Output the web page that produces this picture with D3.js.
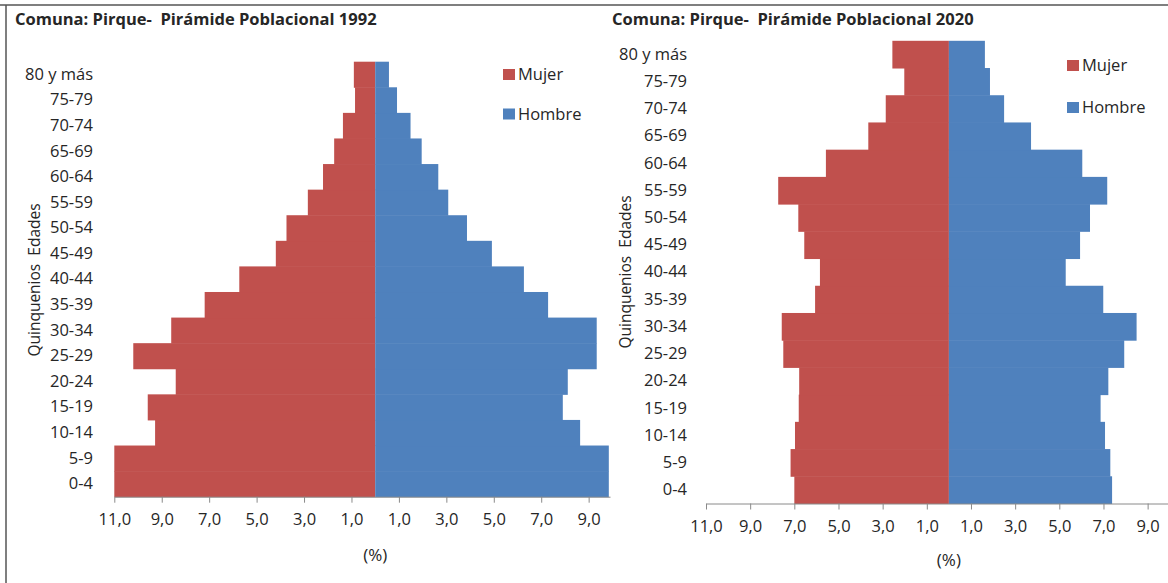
<!DOCTYPE html>
<html>
<head>
<meta charset="utf-8">
<script src="https://cdn.jsdelivr.net/npm/d3@7"></script>
<style>
  body { margin: 0; background: #fff; }
  svg text { font-family: "Open Sans", sans-serif; fill: #262626; white-space: pre; }
</style>
</head>
<body>
<script>
// age groups, bottom to top
var ageGroups = ["0-4", "5-9", "10-14", "15-19", "20-24", "25-29", "30-34", "35-39",
                 "40-44", "45-49", "50-54", "55-59", "60-64", "65-69", "70-74", "75-79", "80 y más"];

// % of population
var mujer1992  = [11.0, 11.0, 9.28, 9.59, 8.41, 10.2, 8.6, 7.19, 5.73, 4.19, 3.74, 2.84, 2.2, 1.73, 1.36, 0.85, 0.9];
var hombre1992 = [9.85, 9.85, 8.64, 7.91, 8.12, 9.34, 9.34, 7.29, 6.27, 4.92, 3.87, 3.08, 2.66, 1.96, 1.49, 0.92, 0.58];
var mujer2020  = [7.0, 7.17, 6.97, 6.8, 6.78, 7.5, 7.57, 6.06, 5.84, 6.55, 6.82, 7.73, 5.57, 3.65, 2.86, 2.02, 2.56];
var hombre2020 = [7.39, 7.31, 7.07, 6.87, 7.22, 7.94, 8.5, 6.99, 5.29, 5.94, 6.39, 7.17, 6.04, 3.72, 2.5, 1.86, 1.63];

var tickValues = [-11, -9, -7, -5, -3, -1, 1, 3, 5, 7, 9];
var seriesNames = ["Mujer", "Hombre"];
var colors = {Mujer: "#C0504D", Hombre: "#4F81BD"};

var svg = d3.select("body").append("svg")
    .attr("width", 1168)
    .attr("height", 583);

// frame of the page the charts were cut from
svg.append("line").attr("x1", 0).attr("x2", 1168).attr("y1", 5).attr("y2", 5)
    .attr("stroke", "#555").attr("stroke-width", 1.5);
svg.append("line").attr("x1", 6).attr("x2", 6).attr("y1", 5).attr("y2", 583)
    .attr("stroke", "#555").attr("stroke-width", 1.5);

var fmt = function(d) { return d3.format(".1f")(Math.abs(d)).replace(".", ","); };

function drawPyramid(o) {
    var g = svg.append("g");

    var x = d3.scaleLinear().domain(o.xDomain).range(o.xRange);
    var y = d3.scaleBand().domain(ageGroups).range([o.yBottom, o.yTop]).padding(0);

    g.append("text")
        .attr("x", o.titleX).attr("y", 25)
        .style("font-weight", "bold").style("font-size", "16.5px")
        .text(o.title);

    var rows = ageGroups.map(function(a, i) { return {age: a, m: o.mujer[i], h: o.hombre[i]}; });

    // Mujer to the left
    g.selectAll(".m").data(rows).enter().append("rect")
        .attr("x", function(d) { return x(-d.m); })
        .attr("y", function(d) { return y(d.age); })
        .attr("width", function(d) { return x(0) - x(-d.m); })
        .attr("height", y.bandwidth() + 0.5)
        .attr("fill", colors.Mujer);

    // Hombre to the right
    g.selectAll(".h").data(rows).enter().append("rect")
        .attr("x", x(0))
        .attr("y", function(d) { return y(d.age); })
        .attr("width", function(d) { return x(d.h) - x(0); })
        .attr("height", y.bandwidth() + 0.5)
        .attr("fill", colors.Hombre);

    var xAxis = d3.axisBottom(x).tickValues(tickValues).tickFormat(fmt)
        .tickSize(6).tickPadding(11).tickSizeOuter(0);
    var ax = g.append("g")
        .attr("transform", "translate(0," + o.yBottom + ")")
        .call(xAxis);
    ax.selectAll("path, line").attr("stroke", "#8a8a8a");
    ax.selectAll("text").style("font-size", "16.5px").attr("fill", "#262626");

    var yAxis = d3.axisLeft(y).tickSize(0).tickPadding(0);
    var ay = g.append("g")
        .attr("transform", "translate(" + o.labelX + ",0)")
        .call(yAxis);
    ay.select(".domain").remove();
    ay.selectAll("text").style("font-size", "16.5px").attr("fill", "#262626");

    g.append("text")
        .attr("transform", "translate(" + o.yTitleX + "," + o.yTitleY + ") rotate(-90)")
        .attr("text-anchor", "middle").attr("dy", "0.35em")
        .style("font-size", "15.5px")
        .text("Quinquenios  Edades");

    g.append("text")
        .attr("x", x(0)).attr("y", o.pctY)
        .attr("text-anchor", "middle").attr("dy", "0.35em")
        .style("font-size", "17px")
        .text("(%)");

    var lg = g.selectAll(".legend").data(seriesNames).enter().append("g")
        .attr("transform", function(d, i) { return "translate(" + o.legendX + "," + (o.legendY + i * o.legendGap) + ")"; });
    lg.append("rect").attr("width", 12).attr("height", 11).attr("fill", function(d) { return colors[d]; });
    lg.append("text").attr("x", 15).attr("y", 5.5).attr("dy", "0.35em")
        .style("font-size", "16.5px").text(function(d) { return d; });
}

drawPyramid({
    title: "Comuna: Pirque-  Pirámide Poblacional 1992",
    mujer: mujer1992, hombre: hombre1992,
    xDomain: [-11, 9.9], xRange: [114.3, 610],
    yTop: 61.7, yBottom: 496.7,
    titleX: 15, labelX: 93,
    yTitleX: 35, yTitleY: 280, pctY: 555,
    legendX: 503, legendY: 69, legendGap: 39.5
});

drawPyramid({
    title: "Comuna: Pirque-  Pirámide Poblacional 2020",
    mujer: mujer2020, hombre: hombre2020,
    xDomain: [-11, 11], xRange: [706, 1191.8],
    yTop: 40.8, yBottom: 503.5,
    titleX: 612, labelX: 687,
    yTitleX: 626, yTitleY: 272, pctY: 560,
    legendX: 1067, legendY: 60, legendGap: 42
});
</script>
</body>
</html>
